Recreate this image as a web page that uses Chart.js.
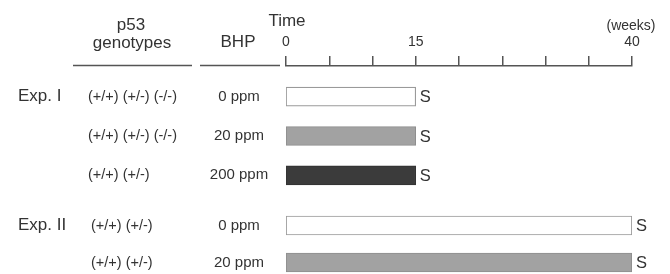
<!DOCTYPE html>
<html>
<head>
<meta charset="utf-8">
<script src="https://cdn.jsdelivr.net/npm/chart.js@4/dist/chart.umd.min.js"></script>
<style>
  html, body { margin: 0; padding: 0; background: #fff; overflow: hidden; }
  #wrap { position: relative; width: 670px; height: 274px; overflow: hidden; background: #fff; }
  canvas { position: absolute; left: 0; }
</style>
</head>
<body>
<div id="wrap">
  <canvas id="axis" width="670" height="72" style="top:0px"></canvas>
  <canvas id="exp1" width="670" height="118" style="top:77px"></canvas>
  <canvas id="exp2" width="670" height="74" style="top:207px"></canvas>
</div>
<script>
// ---- data ----
const expLabels = ['Exp. I', 'Exp. II'];
const genotypes1 = ['(+/+) (+/-) (-/-)', '(+/+) (+/-) (-/-)', '(+/+) (+/-)'];
const doses1 = ['0 ppm', '20 ppm', '200 ppm'];
const weeks1 = [15, 15, 15];
const genotypes2 = ['(+/+) (+/-)', '(+/+) (+/-)'];
const doses2 = ['0 ppm', '20 ppm'];
const weeks2 = [40, 40];
const endLabel = 'S';
const tickLabels = ['0', '15', '40'];
const axisMin = 0, axisMax = 40, tickStep = 5;
const headers = { geno1: 'p53', geno2: 'genotypes', dose: 'BHP', time: 'Time', unit: '(weeks)' };

// ---- styles ----
const FONT = "'Liberation Sans', Arial, Helvetica, sans-serif";
const TEXT = '#333333';
const LINE = '#555555';
const doseFill = { '0 ppm': '#ffffff', '20 ppm': '#a2a2a2', '200 ppm': '#3b3b3b' };
const doseBorder = { '0 ppm': '#9a9a9a', '20 ppm': '#8e8e8e', '200 ppm': '#333333' };
const PAD = { left: 286, right: 38, top: 0, bottom: 0 };

function txt(ctx, s, x, y, size, align, base) {
  ctx.save();
  ctx.font = size + 'px ' + FONT;
  ctx.fillStyle = TEXT;
  ctx.textAlign = align || 'left';
  ctx.textBaseline = base || 'middle';
  ctx.fillText(s, x, y);
  ctx.restore();
}

// ---- axis chart ----
const headerPlugin = {
  id: 'headers',
  afterDraw(chart) {
    const ctx = chart.ctx;
    const xs = chart.scales.x;
    txt(ctx, headers.geno1, 131, 30, 17, 'center', 'alphabetic');
    txt(ctx, headers.geno2, 132, 48, 17, 'center', 'alphabetic');
    txt(ctx, headers.dose, 238, 47, 17, 'center', 'alphabetic');
    txt(ctx, headers.time, xs.getPixelForValue(axisMin) + 1, 26, 17, 'center', 'alphabetic');
    txt(ctx, headers.unit, xs.getPixelForValue(axisMax) - 1, 30, 14, 'center', 'alphabetic');
    ctx.save();
    ctx.strokeStyle = LINE;
    ctx.lineWidth = 1.5;
    ctx.beginPath();
    ctx.moveTo(73, 65.5); ctx.lineTo(192, 65.5);
    ctx.moveTo(200, 65.5); ctx.lineTo(280, 65.5);
    ctx.stroke();
    ctx.restore();
  }
};

new Chart(document.getElementById('axis'), {
  type: 'bar',
  data: { labels: [''], datasets: [] },
  options: {
    indexAxis: 'y',
    responsive: false, animation: false, devicePixelRatio: 1,
    layout: { padding: PAD },
    plugins: { legend: { display: false }, tooltip: { enabled: false } },
    scales: {
      x: {
        type: 'linear', position: 'top', min: axisMin, max: axisMax, offset: false,
        afterFit(scale) { scale.height = 66; },
        ticks: {
          stepSize: tickStep, padding: 5, color: TEXT, maxRotation: 0, autoSkip: false,
          font: { size: 14, family: FONT },
          callback(v) { return tickLabels.includes(String(v)) ? String(v) : ''; }
        },
        grid: { offset: false, drawOnChartArea: false, drawTicks: true, tickLength: 10, color: LINE, lineWidth: 1.5 },
        border: { display: true, color: LINE, width: 1.5 }
      },
      y: { display: false }
    }
  },
  plugins: [headerPlugin]
});

// ---- experiment charts ----
function rowPlugin(expName, genos, doses, weeks, genoX) {
  return {
    id: 'rows',
    afterDraw(chart) {
      const ctx = chart.ctx;
      const xs = chart.scales.x, ys = chart.scales.y;
      doses.forEach((d, i) => {
        const y = ys.getPixelForValue(i);
        if (i === 0) txt(ctx, expName, 18, y, 17, 'left');
        txt(ctx, genos[i], genoX, y, 14.5, 'left');
        txt(ctx, d, 239, y, 15, 'center');
        txt(ctx, endLabel, xs.getPixelForValue(weeks[i]) + 4, y + 1, 16.5, 'left');
      });
    }
  };
}

function expChart(id, expName, genos, doses, weeks, genoX) {
  return new Chart(document.getElementById(id), {
    type: 'bar',
    data: {
      labels: doses,
      datasets: [{
        data: weeks,
        backgroundColor: doses.map(d => doseFill[d]),
        borderColor: doses.map(d => doseBorder[d]),
        borderWidth: 1.2,
        borderSkipped: false,
        barThickness: 19
      }]
    },
    options: {
      indexAxis: 'y',
      responsive: false, animation: false, devicePixelRatio: 1,
      layout: { padding: PAD },
      plugins: { legend: { display: false }, tooltip: { enabled: false } },
      scales: {
        x: { type: 'linear', min: axisMin, max: axisMax, display: false },
        y: { display: false }
      }
    },
    plugins: [rowPlugin(expName, genos, doses, weeks, genoX)]
  });
}

expChart('exp1', expLabels[0], genotypes1, doses1, weeks1, 88);
expChart('exp2', expLabels[1], genotypes2, doses2, weeks2, 91);
</script>
</body>
</html>
